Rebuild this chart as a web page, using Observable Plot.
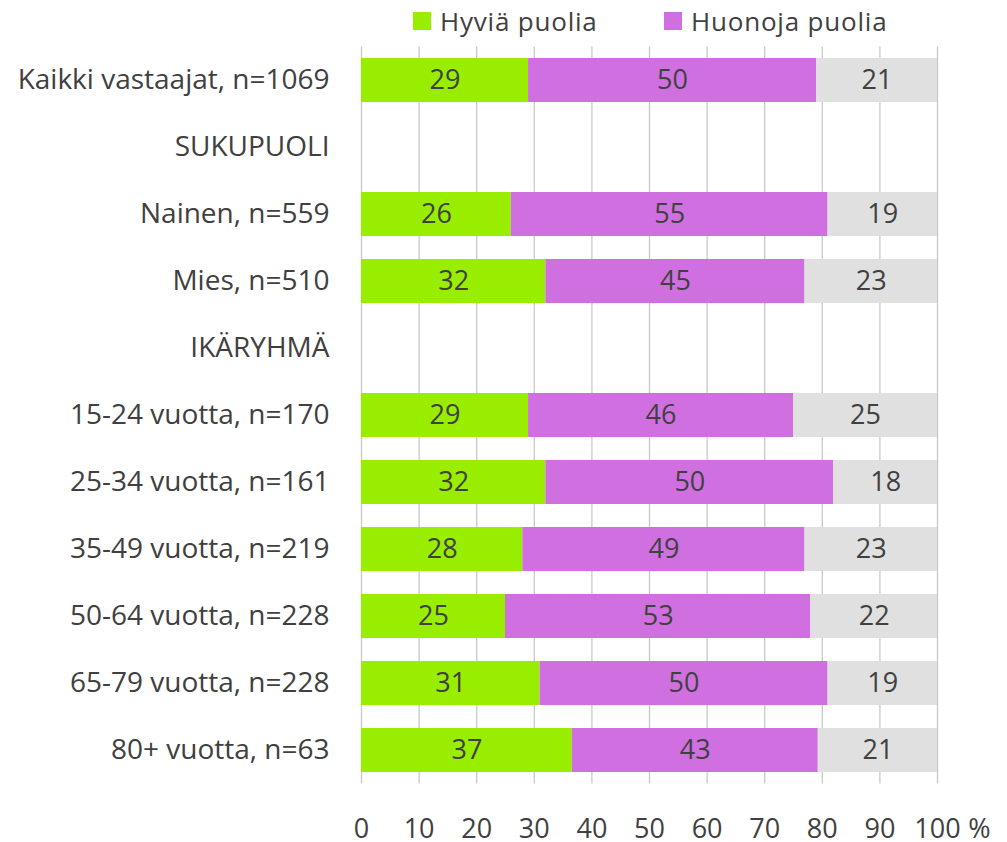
<!DOCTYPE html>
<html>
<head>
<meta charset="utf-8">
<script src="https://cdn.jsdelivr.net/npm/d3@7"></script>
<script src="https://cdn.jsdelivr.net/npm/@observablehq/plot@0.6"></script>
<style>
  html, body { margin: 0; padding: 0; background: #fff; }
  #wrap { position: relative; width: 1007px; height: 842px; }
  #legend { position: absolute; top: 0; left: 0; width: 1007px; height: 45px; font-family: "Open Sans", sans-serif; font-size: 26px; letter-spacing: 0.8px; color: #404040; }
  .item { position: absolute; top: 3px; display: flex; align-items: center; white-space: nowrap; }
  .sw { width: 18px; height: 18px; margin-right: 9px; }
  #chart { position: absolute; top: 0; left: 0; }
</style>
</head>
<body>
<div id="wrap">
  <div id="chart"></div>
  <div id="legend"></div>
</div>
<script>
const categories = [
  "Kaikki vastaajat, n=1069",
  "SUKUPUOLI",
  "Nainen, n=559",
  "Mies, n=510",
  "IKÄRYHMÄ",
  "15-24 vuotta, n=170",
  "25-34 vuotta, n=161",
  "35-49 vuotta, n=219",
  "50-64 vuotta, n=228",
  "65-79 vuotta, n=228",
  "80+ vuotta, n=63"
];
const seriesNames = ["Hyviä puolia", "Huonoja puolia", "Ei osaa sanoa"];
const hyvia   = [29, null, 26, 32, null, 29, 32, 28, 25, 31, 36.6];
const huonoja = [50, null, 55, 45, null, 46, 50, 49, 53, 50, 42.7];
const eos     = [21, null, 19, 23, null, 25, 18, 23, 22, 19, 20.7];
const xTicks = [0, 10, 20, 30, 40, 50, 60, 70, 80, 90, 100];
const colors = ["#99EE00", "#D070E0", "#E0E0E0"];

const seriesValues = [hyvia, huonoja, eos];
const rows = [];
seriesNames.forEach((s, si) => {
  categories.forEach((c, ci) => {
    const v = seriesValues[si][ci];
    if (v != null) rows.push({cat: c, series: s, value: v});
  });
});

const textColor = "#404040";
const fs = 27;

const chart = Plot.plot({
  width: 1007,
  height: 842,
  marginLeft: 361,
  marginRight: 70,
  marginTop: 46.5,
  marginBottom: 58.5,
  style: {fontFamily: "'Open Sans', sans-serif", fontSize: fs + "px", color: textColor, background: "transparent", overflow: "visible"},
  x: {domain: [0, 100], ticks: xTicks},
  y: {domain: categories, paddingInner: 0.34, paddingOuter: 0.17},
  color: {domain: seriesNames, range: colors},
  marks: [
    Plot.gridX(xTicks, {stroke: "#c8c8c8", strokeOpacity: 1, strokeWidth: 1.3}),
    Plot.barX(rows, {x: "value", y: "cat", fill: "series", order: seriesNames}),
    Plot.text(rows, Plot.stackX({x: "value", y: "cat", z: "series", order: seriesNames,
      text: d => String(Math.round(d.value)), fill: textColor, fontSize: fs})),
    Plot.axisY({tickSize: 0, tickPadding: 32, fontSize: 28, fill: textColor, label: null}),
    Plot.axisX(xTicks, {tickSize: 0, tickPadding: 35, fontSize: fs, fill: textColor, label: null}),
    Plot.text([{x: 100, t: "%"}], {x: "x", text: "t", frameAnchor: "bottom", lineAnchor: "middle", dy: 45, dx: 42, fontSize: fs, fill: textColor})
  ]
});
document.getElementById("chart").appendChild(chart);

const legend = document.getElementById("legend");
const legendLeft = [413, 664];
seriesNames.slice(0, 2).forEach((s, i) => {
  const it = document.createElement("div");
  it.className = "item";
  it.style.left = legendLeft[i] + "px";
  const sw = document.createElement("div");
  sw.className = "sw";
  sw.style.background = colors[i];
  const t = document.createElement("span");
  t.textContent = s;
  it.appendChild(sw);
  it.appendChild(t);
  legend.appendChild(it);
});
</script>
</body>
</html>
